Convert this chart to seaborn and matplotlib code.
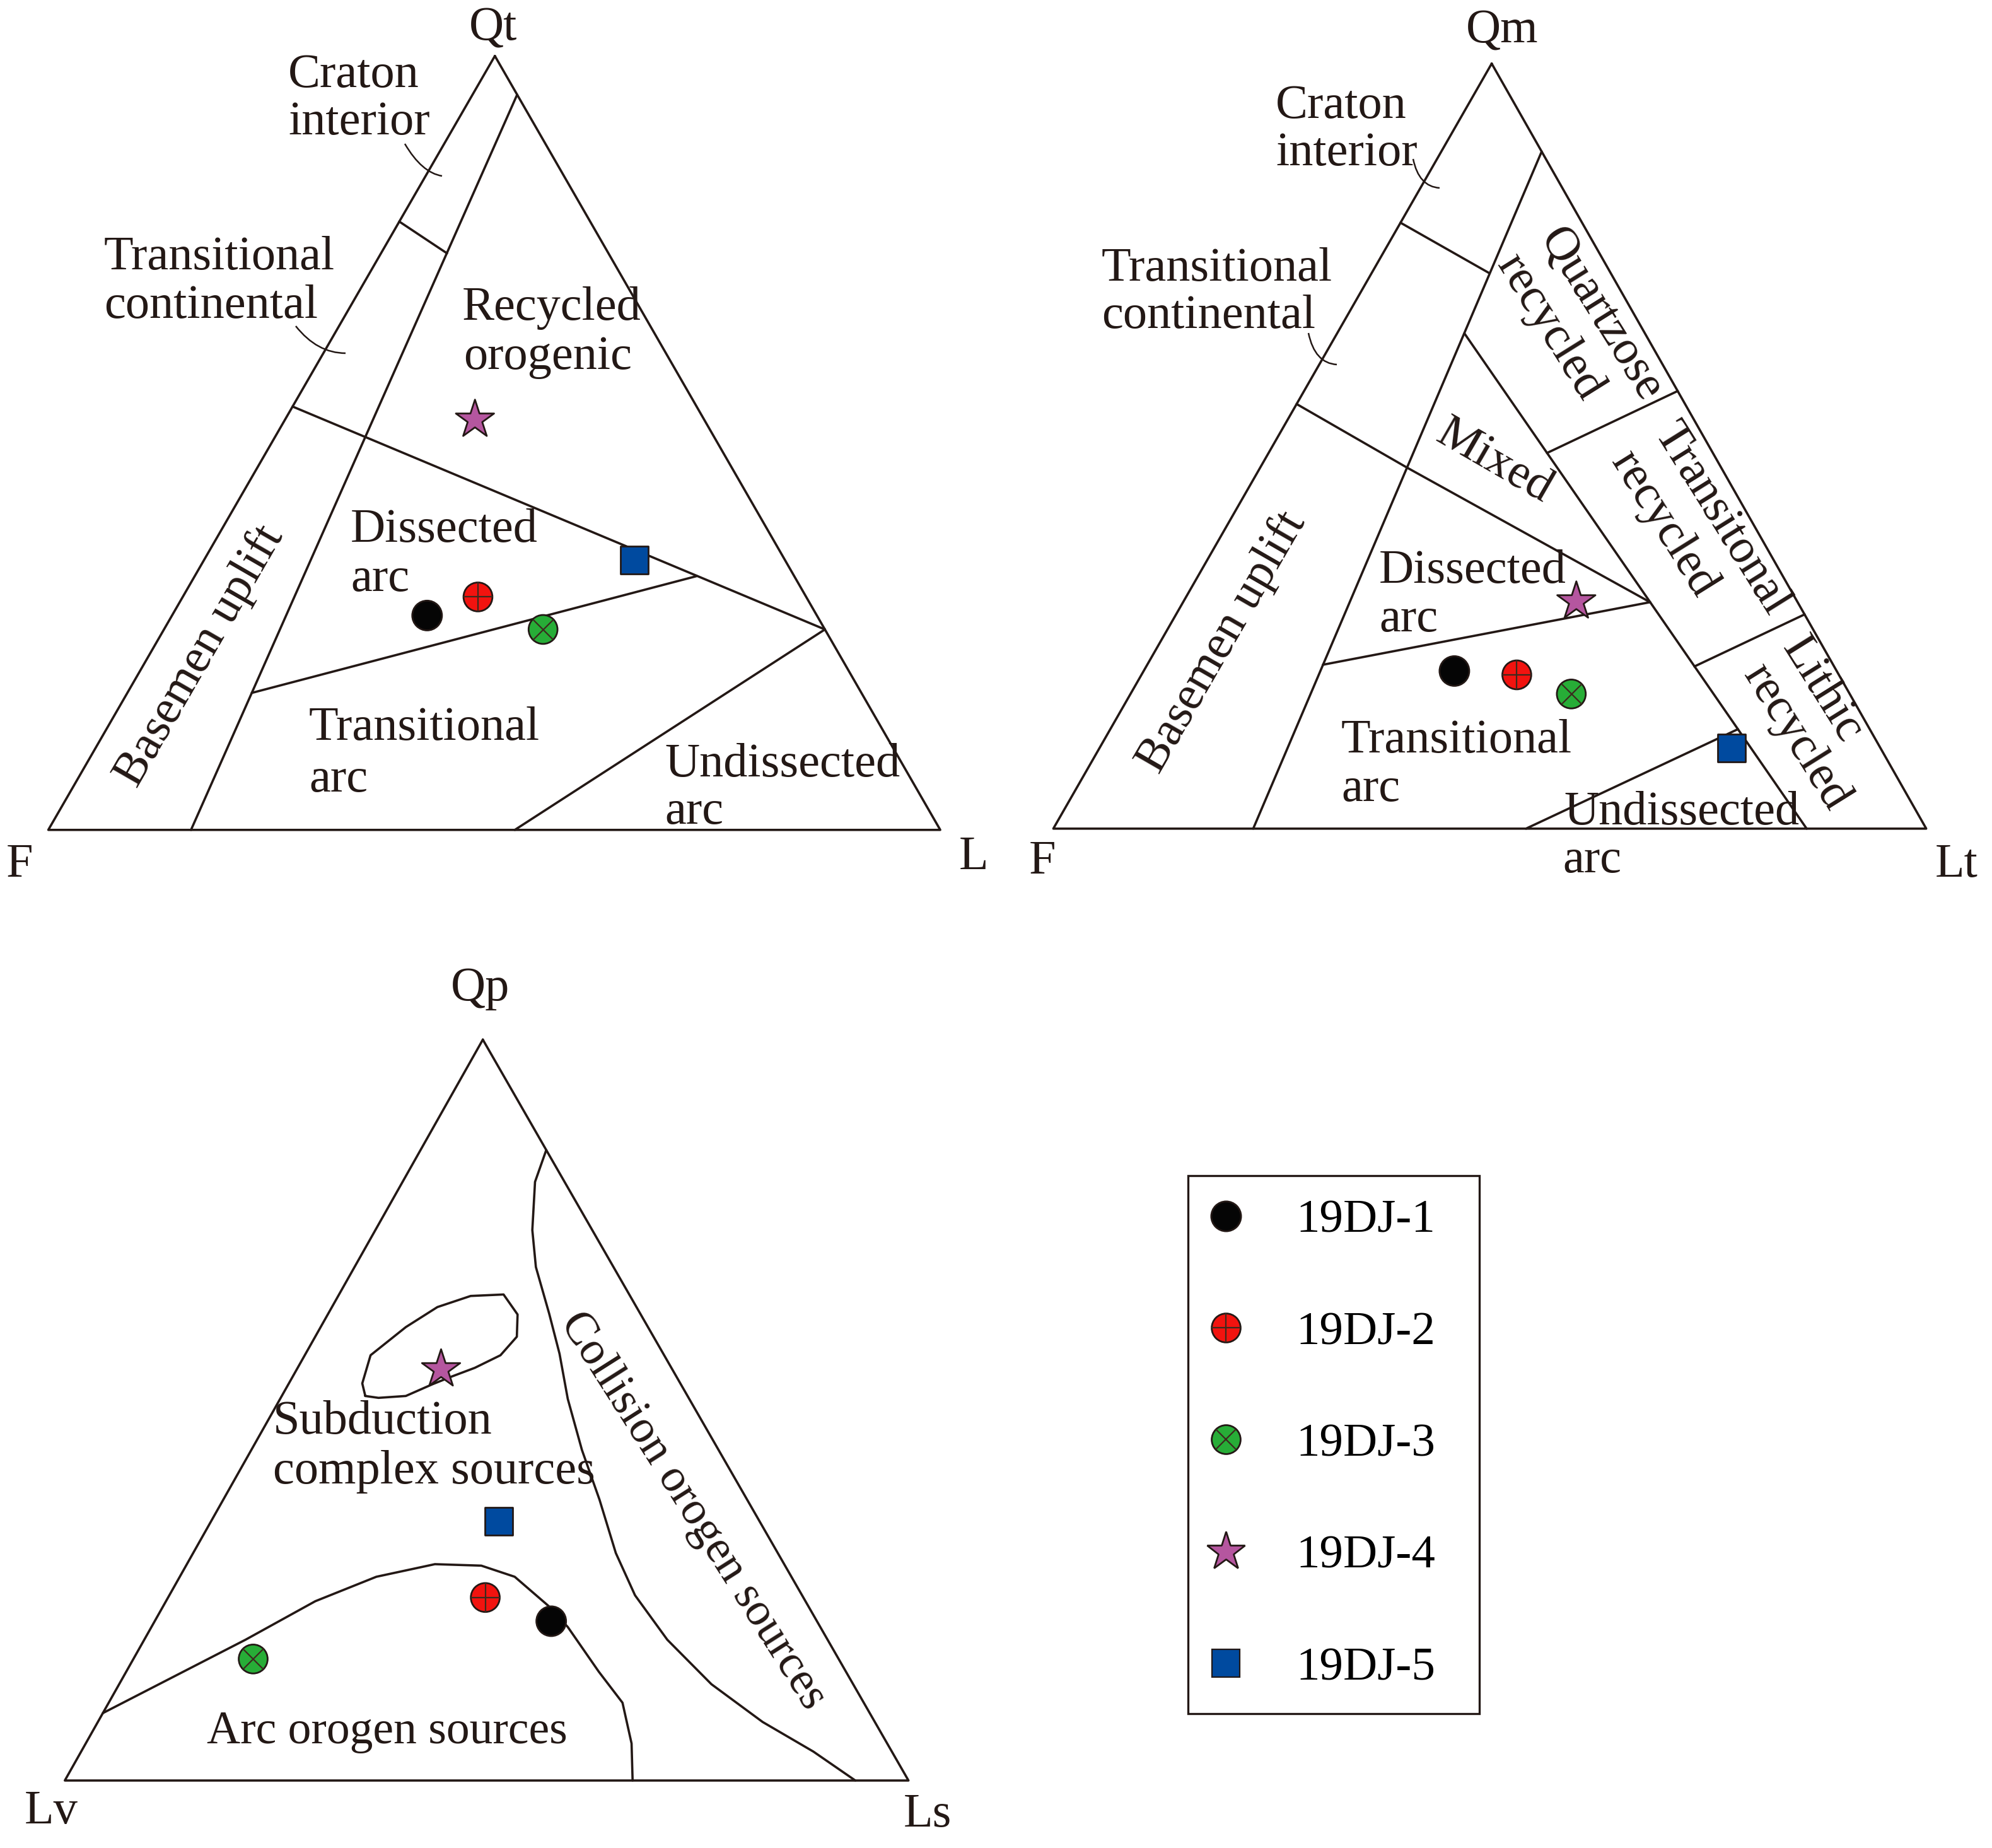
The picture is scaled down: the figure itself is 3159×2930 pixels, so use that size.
import numpy as np
import pandas as pd
import matplotlib
matplotlib.use("Agg")
import matplotlib.pyplot as plt
import seaborn as sns
from matplotlib.lines import Line2D
from matplotlib.path import Path
from matplotlib.patches import PathPatch

# ---------------- data (percent compositions) ----------------
samples = ["19DJ-1", "19DJ-2", "19DJ-3", "19DJ-4", "19DJ-5"]

# Qt-F-L diagram
qfl_Qt = [27.7, 30.1, 25.9, 53.0, 34.9]
qfl_F = [43.7, 36.8, 31.6, 25.7, 16.9]
qfl_L = [28.6, 33.1, 42.5, 21.3, 48.2]

# Qm-F-Lt diagram
qm_Qm = [20.6, 20.1, 17.6, 29.7, 10.5]
qm_F = [43.8, 36.9, 31.9, 25.3, 17.1]
qm_Lt = [35.6, 43.0, 50.5, 45.0, 72.4]

# Qp-Lv-Ls diagram
qp_Qp = [21.5, 24.7, 16.4, 55.5, 35.0]
qp_Lv = [31.5, 37.7, 69.4, 27.4, 30.9]
qp_Ls = [47.0, 37.6, 14.2, 17.1, 34.1]

# field boundaries (top, left, right vertex components)
qfl_lines = [
    [(95, 0, 5), (0, 84, 16)],
    [(78.6, 21.4, 0), (74.5, 18.1, 7.4)],
    [(54.7, 45.3, 0), (25.9, 0, 74.1)],
    [(17.7, 68.35, 13.95), (32.8, 10.9, 56.3)],
    [(0, 47.7, 52.3), (25.9, 0, 74.1)],
]
qm_lines = [
    [(88.5, 0, 11.5), (0, 77.1, 22.9)],
    [(79.2, 20.8, 0), (72.6, 13.9, 13.5)],
    [(55.5, 44.5, 0), (47.2, 36.0, 16.8)],
    [(47.2, 36.0, 16.8), (29.6, 16.9, 53.5)],
    [(64.8, 20.7, 14.6), (0, 13.7, 86.3)],
    [(21.4, 58.4, 20.1), (29.6, 16.9, 53.5)],
    [(49.1, 19.0, 31.9), (57.2, 0, 42.8)],
    [(21.2, 16.0, 62.8), (28.0, 0, 72.0)],
    [(0, 45.85, 54.15), (13.0, 15.1, 71.9)],
]
subduction_field = [
    (51.9, 38.2, 9.9), (53.6, 37.7, 8.7), (57.4, 34.8, 7.8), (61.2, 28.7, 10.1),
    (63.9, 23.6, 12.5), (65.4, 18.9, 15.7), (65.6, 14.9, 19.5), (62.9, 14.6, 22.5),
    (59.9, 16.2, 23.9), (57.4, 19.4, 23.2), (55.7, 23.3, 21.0), (54.6, 26.6, 18.9),
    (53.5, 29.4, 17.1), (51.9, 33.4, 14.7), (51.7, 36.8, 11.6), (51.9, 38.2, 9.9),
]
arc_field = [
    (9.1, 90.9, 0), (19.0, 69.0, 12.0), (24.2, 58.1, 17.7), (27.5, 49.2, 23.3),
    (29.2, 41.4, 29.4), (29.0, 36.0, 35.0), (27.5, 32.8, 39.7), (23.6, 30.8, 45.6),
    (20.7, 29.9, 49.3), (14.7, 29.3, 56.0), (10.5, 28.6, 60.9), (5.0, 30.3, 64.7),
    (0, 32.7, 67.3),
]
collision_field = [
    (85.1, 0, 14.9), (80.8, 3.5, 15.7), (74.3, 7.1, 18.6), (69.3, 9.2, 21.5),
    (63.0, 10.8, 26.2), (57.6, 12.3, 30.1), (51.5, 14.4, 34.1), (44.6, 16.2, 39.2),
    (37.9, 17.5, 44.6), (30.7, 19.2, 50.1), (25.0, 19.8, 55.2), (19.0, 19.0, 62.0),
    (13.0, 16.8, 70.2), (7.9, 13.3, 78.8), (3.9, 9.3, 86.8), (0, 6.3, 93.7),
]

# ---------------- layout ----------------
W, H = 3159, 2930
V1 = [(784.8, 88.7), (76.6, 1315.8), (1491.1, 1315.8)]
V2 = [(2365.6, 100.8), (1670.4, 1313.8), (3054.7, 1313.8)]
V3 = [(765.7, 1648.3), (102.8, 2823.0), (1440.7, 2823.0)]

INK = "#231815"
CROSS = "#3b2a1e"
LW = 2.6
FS = 55
sns.set_theme(style="white")
plt.rcParams["font.family"] = ["Liberation Serif", "DejaVu Serif"]

fig = plt.figure(figsize=(W / 100, H / 100), dpi=100)
ax = fig.add_axes([0, 0, 1, 1])
ax.set_xlim(0, W)
ax.set_ylim(H, 0)
ax.axis("off")


def tern(a, b, c, V):
    a, b, c = (np.asarray(v, dtype=float) for v in (a, b, c))
    s = a + b + c
    x = (a * V[0][0] + b * V[1][0] + c * V[2][0]) / s
    y = (a * V[0][1] + b * V[1][1] + c * V[2][1]) / s
    return x, y


def draw_poly(pts, V):
    arr = np.array(pts, dtype=float)
    x, y = tern(arr[:, 0], arr[:, 1], arr[:, 2], V)
    ax.plot(x, y, color=INK, lw=LW, solid_joinstyle="round", zorder=2)


for V in (V1, V2, V3):
    draw_poly([(100, 0, 0), (0, 100, 0), (0, 0, 100), (100, 0, 0)], V)
for seg in qfl_lines:
    draw_poly(seg, V1)
for seg in qm_lines:
    draw_poly(seg, V2)
for curve in (subduction_field, arc_field, collision_field):
    draw_poly(curve, V3)

# ---------------- samples ----------------
frames = []
for (a, b, c, V) in ((qfl_Qt, qfl_F, qfl_L, V1), (qm_Qm, qm_F, qm_Lt, V2), (qp_Qp, qp_Lv, qp_Ls, V3)):
    x, y = tern(a, b, c, V)
    frames.append(pd.DataFrame({"x": x, "y": y, "sample": samples}))
df = pd.concat(frames, ignore_index=True)

palette = {"19DJ-1": "#050505", "19DJ-2": "#F2130F", "19DJ-3": "#27AD37",
           "19DJ-4": "#B5569F", "19DJ-5": "#004A9F"}
markers = {"19DJ-1": "o", "19DJ-2": "o", "19DJ-3": "o", "19DJ-4": "*", "19DJ-5": "s"}
sizes = {"19DJ-1": 1150, "19DJ-2": 1089, "19DJ-3": 1089, "19DJ-4": 2100, "19DJ-5": 1000}

sns.scatterplot(data=df, x="x", y="y", hue="sample", style="sample", size="sample",
                palette=palette, markers=markers, sizes=sizes, edgecolor=INK,
                linewidth=2, legend=False, ax=ax, zorder=5)
d2 = df[df["sample"] == "19DJ-2"]
d3 = df[df["sample"] == "19DJ-3"]
ax.scatter(d2["x"], d2["y"], marker="+", s=33 ** 2, c=CROSS, linewidths=1.6, zorder=6)
ax.scatter(d3["x"], d3["y"], marker="x", s=23.5 ** 2, c=CROSS, linewidths=1.6, zorder=6)
ax.set_xlim(0, W)
ax.set_ylim(H, 0)
ax.axis("off")

# ---------------- text ----------------
def lab(x, y, s, **kw):
    opts = dict(fontsize=FS, color=INK, ha="left", va="baseline")
    opts.update(kw)
    ax.text(x, y, s, **opts)


def rlab(x, y, s, rot, fs=FS):
    ax.text(x, y, s, fontsize=fs, color=INK, ha="center", va="center",
            rotation=rot, rotation_mode="anchor")


def leader(p0, c, p1):
    path = Path([p0, c, p1], [Path.MOVETO, Path.CURVE3, Path.CURVE3])
    ax.add_patch(PathPatch(path, fc="none", ec=INK, lw=1.8, zorder=2))


# vertex labels
for (x, y, s) in [(782, 64, "Qt"), (31, 1390, "F"), (1544, 1378, "L"),
                  (2382, 68, "Qm"), (1653, 1385, "F"), (3103, 1390, "Lt"),
                  (762, 1586, "Qp"), (81, 2891, "Lv"), (1471, 2896, "Ls")]:
    lab(x, y, s, ha="center")

# QtFL
lab(457, 138, "Craton"); lab(457, 213, "interior")
leader((642, 228), (669, 274), (701, 279))
lab(165, 427, "Transitional"); lab(165, 504, "continental")
leader((469, 517), (503, 560), (548, 560))
lab(733, 507, "Recycled"); lab(735, 585, "orogenic")
lab(556, 859, "Dissected"); lab(556, 937, "arc")
lab(490, 1173, "Transitional"); lab(490, 1255, "arc")
lab(1054, 1231, "Undissected"); lab(1054, 1306, "arc")
rlab(317, 1040, "Basemen uplift", 60)

# QmFLt
lab(2023, 187, "Craton"); lab(2023, 262, "interior")
leader((2241, 252), (2250, 296), (2283, 298))
lab(1747, 445, "Transitional"); lab(1747, 520, "continental")
leader((2075, 528), (2085, 576), (2120, 578))
rlab(2538, 500, "Quartzose", -58); rlab(2457, 519, "recycled", -58)
rlab(2730, 823, "Transitonal", -58); rlab(2638, 831, "recycled", -58)
rlab(2890, 1094, "Lithic", -58); rlab(2848, 1169, "recycled", -58)
rlab(2370, 732, "Mixed", -30)
lab(2187, 924, "Dissected"); lab(2187, 1001, "arc")
lab(2127, 1193, "Transitional"); lab(2127, 1270, "arc")
lab(2480, 1307, "Undissected"); lab(2478, 1383, "arc")
rlab(1938, 1018, "Basemen uplift", 60)

# QpLvLs
lab(433, 2273, "Subduction"); lab(433, 2352, "complex sources")
lab(328, 2764, "Arc orogen sources", fontsize=53)
rlab(1098, 2396, "Collision orogen sources", -57.6, fs=53)

# ---------------- legend ----------------
def mk(m, ms, key, mew=2):
    return Line2D([], [], ls="none", marker=m, ms=ms, mfc=palette[key], mec=INK, mew=mew)


handles = [
    mk("o", 34, "19DJ-1"),
    (mk("o", 33, "19DJ-2"), Line2D([], [], ls="none", marker="+", ms=33, mec=CROSS, mew=1.6)),
    (mk("o", 33, "19DJ-3"), Line2D([], [], ls="none", marker="x", ms=23.5, mec=CROSS, mew=1.6)),
    mk("*", 46, "19DJ-4"),
    mk("s", 31.5, "19DJ-5", mew=1.6),
]
x0, x1, y0, y1 = 1884, 2346, 1864, 2712
leg = ax.legend(handles, samples, loc="upper left",
                bbox_to_anchor=(x0 / W, 1 - y1 / H, (x1 - x0) / W, (y1 - y0) / H),
                bbox_transform=fig.transFigure, mode="expand", borderaxespad=0,
                numpoints=1, fontsize=54, borderpad=0.5, labelspacing=1.45,
                handlelength=0.6, handletextpad=1.18, fancybox=False,
                frameon=True, framealpha=1)
leg.get_frame().set_edgecolor(INK)
leg.get_frame().set_linewidth(2.4)
for t in leg.get_texts():
    t.set_color("black")

fig.savefig("out.png", dpi=100)
